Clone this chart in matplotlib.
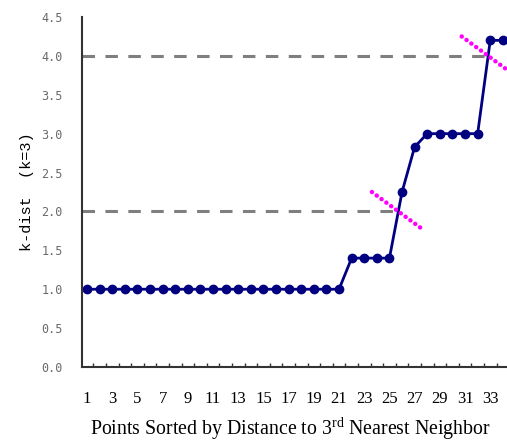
import numpy as np
import matplotlib
matplotlib.use("Agg")
import matplotlib.pyplot as plt

plt.rcParams['mathtext.fontset'] = 'custom'
plt.rcParams['mathtext.rm'] = 'Liberation Serif'
plt.rcParams['lines.scale_dashes'] = False

# k-dist values of the points, sorted
points = np.arange(1, 35)
kdist = [1.0] * 21 + [1.4, 1.4, 1.4, 1.4, 2.25, 2.83, 3.0, 3.0, 3.0, 3.0, 3.0, 4.2, 4.2]
thresholds = [2.0, 4.0]
xtick_labels = [str(i) for i in range(1, 34, 2)]
yticks = np.arange(0, 4.51, 0.5)

fig = plt.figure(figsize=(5.07, 4.43), dpi=100)
ax = fig.add_axes([82 / 507, 76 / 443, 425 / 507, 350 / 443])

# dashed threshold lines, stopping where the curve crosses them
for t in thresholds:
    xc = np.interp(t, kdist, points)
    ax.plot([0.6, xc], [t, t], color='#7f7f7f', lw=2.2, dashes=[9, 7.5], zorder=1)

# magenta dotted marks across the two knees
slope = -0.119
for t in thresholds:
    xc = np.interp(t, kdist, points)
    xs = np.array([xc - 2.1, xc + 2.1])
    ax.plot(xs, t + slope * (xs - xc), color='#ff00ff', lw=3.2,
            dashes=[0.1, 4.2], dash_capstyle='round', zorder=3)

ax.plot(points, kdist, color='#000080', lw=2.0, marker='o', markersize=6,
        markerfacecolor='#000080', markeredgecolor='#000080', zorder=2)

ax.set_xlim(0.6, 34.33)
ax.set_ylim(0, 4.5)

ax.set_xticks(range(1, 34, 2))
ax.set_xticklabels(xtick_labels, fontfamily='Liberation Serif', fontsize=12)
ax.set_xticks(np.arange(1.5, 34, 1), minor=True)
ax.tick_params(axis='x', which='major', length=0, pad=17)
ax.tick_params(axis='x', which='minor', direction='in', length=3, width=1, color='#333333')

ax.set_yticks(yticks)
ax.set_yticklabels([f"{v:.1f}" for v in yticks], fontfamily='DejaVu Sans Mono',
                   fontsize=8.5, color='#6a6a6a')
ax.tick_params(axis='y', length=0, pad=14)

for side in ['top', 'right']:
    ax.spines[side].set_visible(False)
for side in ['left', 'bottom']:
    ax.spines[side].set_color('#333333')
    ax.spines[side].set_linewidth(1.5)

ax.set_ylabel('k-dist  (k=3)', fontfamily='Liberation Mono', fontsize=11)
ax.yaxis.set_label_coords(-0.113, 0.5)
ax.set_xlabel('Points Sorted by Distance to 3$^{\\rm rd}$ Nearest Neighbor',
              fontfamily='Liberation Serif', fontsize=14.3)
ax.xaxis.set_label_coords(208 / 425, -0.136)

fig.savefig('out.png', dpi=100)
